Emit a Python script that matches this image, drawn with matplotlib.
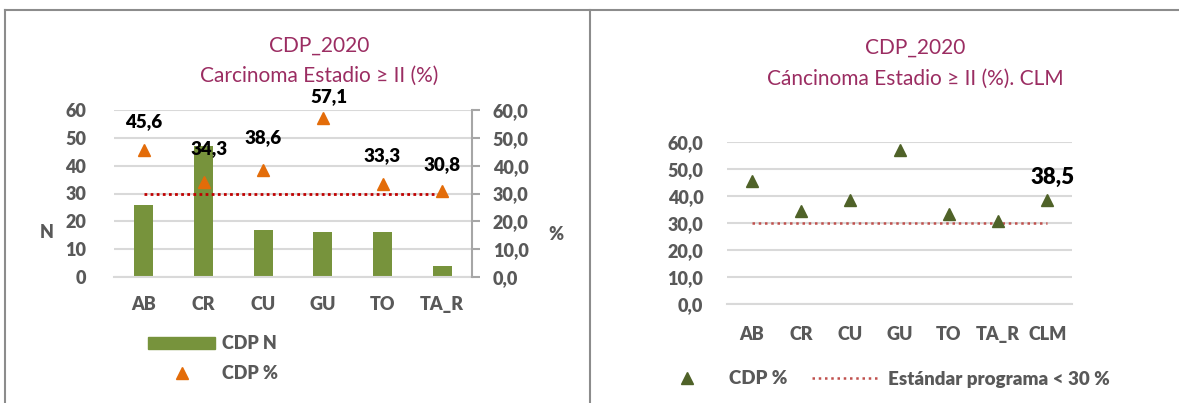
import matplotlib
matplotlib.use("Agg")
import matplotlib.pyplot as plt
from matplotlib.lines import Line2D
from matplotlib.patches import Patch
from matplotlib.ticker import FuncFormatter
from matplotlib.font_manager import FontProperties

plt.rcParams.update({
    "font.family": "Lato",
})

# data
units = ["AB", "CR", "CU", "GU", "TO", "TA_R"]
cdp_n = [26, 47, 17, 16, 16, 4]
cdp_pct = [45.6, 34.3, 38.6, 57.1, 33.3, 30.8]
units_clm = ["AB", "CR", "CU", "GU", "TO", "TA_R", "CLM"]
cdp_pct_clm = [45.6, 34.3, 38.6, 57.1, 33.3, 30.8, 38.5]
standard = 30

TITLE = "#9B2D62"
GRAY = "#595959"
GRID = "#D9D9D9"
BAR = "#77933C"
ORANGE = "#E36C09"
DKGREEN = "#4F6228"
RED = "#C00000"
RED2 = "#C0504D"
WT = 800

W, H = 1179, 403
fig = plt.figure(figsize=(W / 100, H / 100), dpi=100)
fig.patch.set_facecolor("white")


def box(x0, y0, x1, y1):
    return [x0 / W, 1 - y1 / H, (x1 - x0) / W, (y1 - y0) / H]


def bold_ticks(a, size=13):
    fp = FontProperties(family="Lato", weight=WT, size=size)
    for t in a.get_xticklabels() + a.get_yticklabels():
        t.set_fontproperties(fp)


comma = FuncFormatter(lambda v, p: f"{v:.1f}".replace(".", ","))

# ---- left chart ----
ax = fig.add_axes(box(114, 110, 472, 277))
x = list(range(len(units)))
ax.bar(x, cdp_n, width=0.32, color=BAR, zorder=2)
ax.set_ylim(0, 60)
ax.set_xlim(-0.5, len(units) - 0.5)
ax.set_yticks(range(0, 61, 10))
ax.yaxis.grid(True, color=GRID, lw=1.5, zorder=0)
ax.set_axisbelow(True)
ax.set_xticks(x)
ax.set_xticklabels(units)
for s in ["top", "right", "left"]:
    ax.spines[s].set_visible(False)
ax.spines["bottom"].set_color(GRID)
ax.spines["bottom"].set_linewidth(1.5)
ax.tick_params(axis="both", length=0, labelsize=13, colors=GRAY)
ax.tick_params(axis="y", pad=20)
ax.tick_params(axis="x", pad=14)
bold_ticks(ax)

ax2 = ax.twinx()
ax2.set_ylim(0, 60)
ax2.set_yticks(range(0, 61, 10))
ax2.yaxis.set_major_formatter(comma)
for s in ["top", "left", "bottom"]:
    ax2.spines[s].set_visible(False)
ax2.spines["right"].set_color("#A6A6A6")
ax2.spines["right"].set_linewidth(1.5)
ax2.tick_params(axis="y", length=6, width=1.5, color="#A6A6A6", labelsize=13,
                labelcolor=GRAY, pad=9)
bold_ticks(ax2)
ax2.plot([x[0], x[-1]], [standard, standard], ls=(0, (1, 1.2)), color=RED,
         lw=2, zorder=3)
ax2.plot(x, cdp_pct, ls="none", marker="^", ms=9, color=ORANGE, zorder=4)
offs = [(0, 28), (6, 33), (0, 32), (6, 21), (0, 29), (0, 27)]
for xi, v, o in zip(x, cdp_pct, offs):
    ax2.annotate(f"{v:.1f}".replace(".", ","), (xi, v), xytext=o,
                 textcoords="offset pixels", ha="center", va="center",
                 fontsize=13.5, fontweight=WT, color="black")

fig.text(47 / W, 1 - 233 / H, "N", ha="center", va="center", fontsize=13,
         fontweight=WT, color=GRAY)
fig.text(556 / W, 1 - 235 / H, "%", ha="center", va="center", fontsize=13,
         fontweight=WT, color=GRAY)

fig.text(319 / W, 1 - 46 / H, "CDP_2020", ha="center", va="center",
         fontsize=15, color=TITLE)
fig.text(319 / W, 1 - 76 / H, "Carcinoma Estadio \u2265 II (%)", ha="center",
         va="center", fontsize=15, color=TITLE)

h_bar = Patch(color=BAR)
h_tri = Line2D([], [], ls="none", marker="^", ms=9, color=ORANGE)
fig.legend([h_bar, h_tri], ["CDP N", "CDP %"], loc="upper left",
           bbox_to_anchor=(132 / W, 1 - 319 / H), frameon=False,
           prop={"family": "Lato", "size": 13, "weight": WT},
           labelcolor=GRAY, handlelength=3.7, handleheight=0.7,
           labelspacing=0.7, handletextpad=0.4)

# ---- right chart ----
bx = fig.add_axes(box(727, 142, 1072, 304))
xc = list(range(len(units_clm)))
bx.set_ylim(0, 60)
bx.set_xlim(-0.5, len(units_clm) - 0.5)
bx.set_yticks(range(0, 61, 10))
bx.yaxis.set_major_formatter(comma)
bx.yaxis.grid(True, color=GRID, lw=1.5, zorder=0)
bx.set_axisbelow(True)
bx.set_xticks(xc)
bx.set_xticklabels(units_clm)
for s in ["top", "right", "left"]:
    bx.spines[s].set_visible(False)
bx.spines["bottom"].set_color(GRID)
bx.spines["bottom"].set_linewidth(1.5)
bx.tick_params(axis="both", length=0, labelsize=13, colors=GRAY)
bx.tick_params(axis="x", pad=16)
bx.tick_params(axis="y", pad=17)
bold_ticks(bx)
bx.plot([xc[0], xc[-1]], [standard] * 2, ls=(0, (1, 1.5)), color=RED2,
        lw=1.8, zorder=3)
bx.plot(xc, cdp_pct_clm, ls="none", marker="^", ms=9, color=DKGREEN, zorder=4)
bx.annotate(f"{cdp_pct_clm[-1]:.1f}".replace(".", ","),
            (xc[-1], cdp_pct_clm[-1]), xytext=(5, 23),
            textcoords="offset pixels", ha="center", va="center",
            fontsize=16, fontweight=WT, color="black")

fig.text(915 / W, 1 - 48 / H, "CDP_2020", ha="center", va="center",
         fontsize=15, color=TITLE)
fig.text(915 / W, 1 - 79 / H, "C\u00e1ncinoma Estadio \u2265 II (%). CLM",
         ha="center", va="center", fontsize=15, color=TITLE)

h_tri2 = Line2D([], [], ls="none", marker="^", ms=9, color=DKGREEN)
h_line = Line2D([], [], ls=(0, (1, 1.5)), color=RED2, lw=1.8)
fig.legend([h_tri2, h_line], ["CDP %", "Est\u00e1ndar programa < 30 %"],
           loc="center left", bbox_to_anchor=(636 / W, 1 - 379 / H),
           ncol=2, frameon=False,
           prop={"family": "Lato", "size": 13.5, "weight": WT},
           labelcolor=GRAY, handlelength=3.6, handletextpad=0.45,
           columnspacing=1.3)

# panel frames
fc = "#8C8C8C"
fig.add_artist(Line2D([5 / W, 5 / W], [0, 1 - 10 / H], color=fc, lw=1.5))
fig.add_artist(Line2D([5 / W, 1], [1 - 10 / H, 1 - 10 / H], color=fc, lw=1.5))
fig.add_artist(Line2D([590 / W, 590 / W], [0, 1 - 10 / H], color=fc, lw=1.5))

fig.savefig("out.png", dpi=100)
